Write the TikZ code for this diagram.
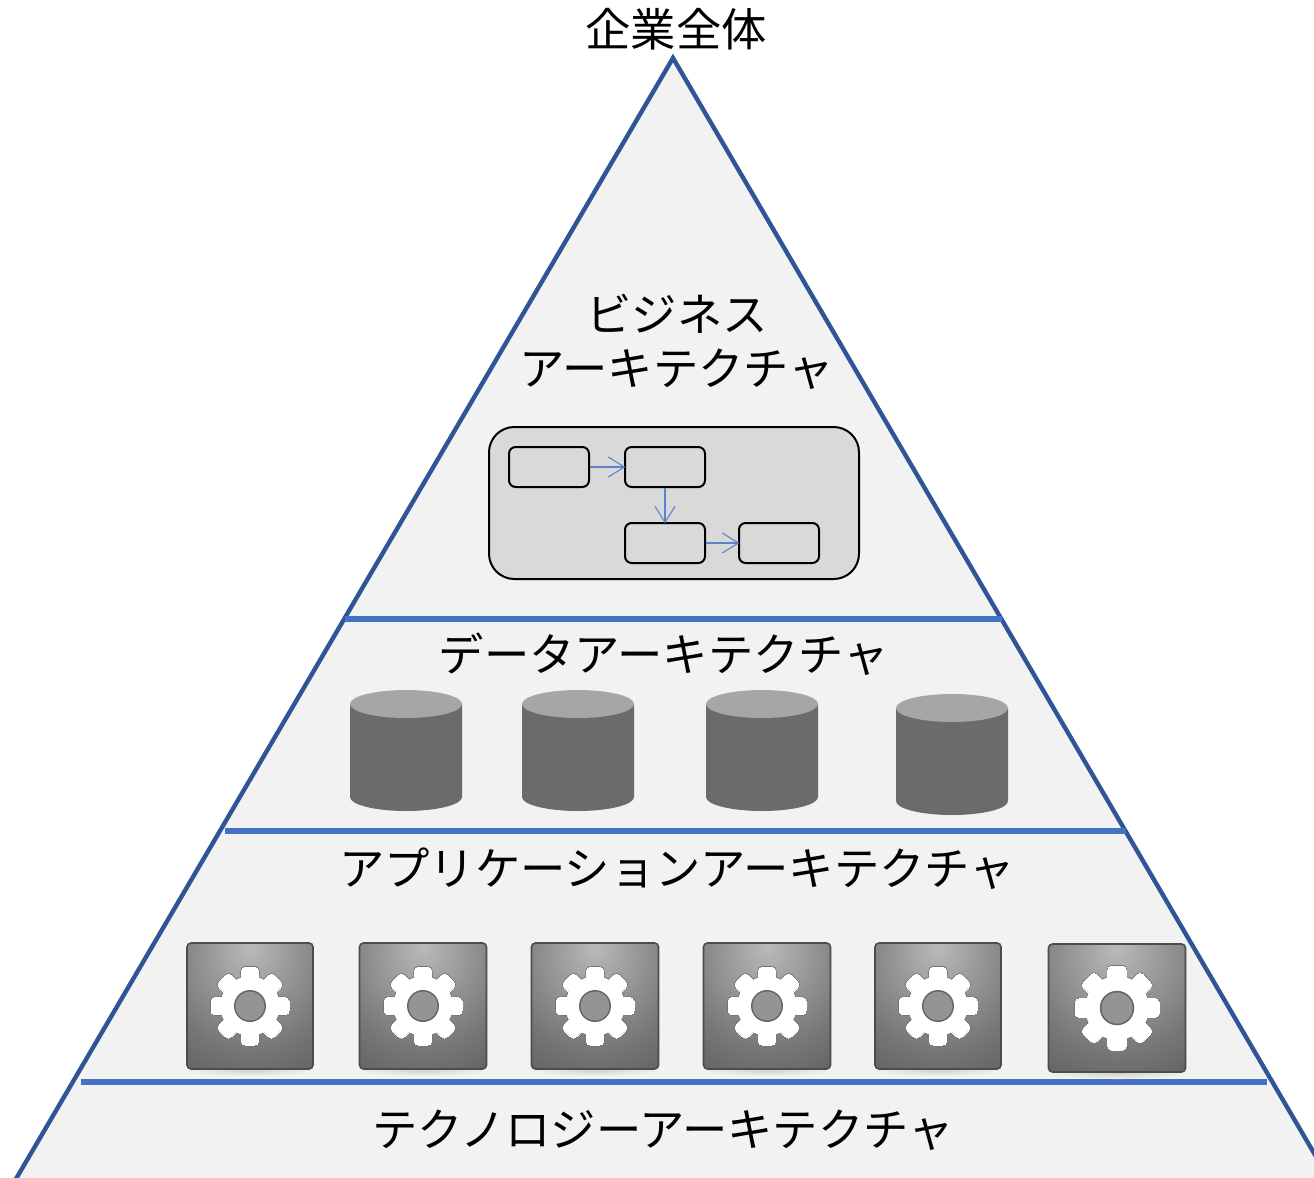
\documentclass[tikz,border=0pt]{standalone}
\usepackage{fontspec}
\newfontfamily\cjk{Noto Sans CJK JP}
\usepackage{tikz}
\usetikzlibrary{positioning}
\usetikzlibrary{arrows.meta}
\usetikzlibrary{shapes.geometric}
\definecolor{edgeblue}{HTML}{2F5597}
\definecolor{ruleblue}{HTML}{4472C4}
\definecolor{flowblue}{HTML}{5B84CC}
\definecolor{pyramid}{HTML}{F2F2F2}
\definecolor{panel}{HTML}{D9D9D9}
\pgfdeclareradialshading{iconshade}{\pgfpoint{0bp}{24bp}}{%
  color(0bp)=(black!27); color(16bp)=(black!40); color(34bp)=(black!54);
  color(55bp)=(black!66); color(100bp)=(black!78)}
\tikzset{%
  layer label/.style={
    font=\cjk\fontsize{34}{40.5}\selectfont,
    align=center,
    inner sep=0pt
  },
  flow box/.style={
    rectangle,
    draw=black,
    line width=1.5pt,
    rounded corners=5pt,
    minimum width=60pt,
    minimum height=30pt,
    inner sep=0pt
  },
  flow arrow/.style={
    draw=flowblue,
    line width=0.9pt,
    -{Straight Barb[length=12pt,width=15pt,line width=0.8pt]},
    shorten >=-1pt
  },
  drum body/.style={fill=black!58},
  drum top/.style={fill=black!35},
  icon tile/.style={
    rectangle,
    rounded corners=3pt,
    draw=black!70,
    line width=1.2pt,
    shading=iconshade,
    inner sep=0pt
  },
  icon shadow/.style={
    ellipse,
    inner sep=0pt,
    shading=radial,
    inner color=black!18,
    outer color=pyramid
  },
}
\newcommand{\gearicon}[6]{% name, x, y, width, height, gear radius
  \node[icon shadow, minimum width=#4*0.8pt, minimum height=9pt] (#1_shadow) at (#2,#3+#5/2+1) {};
  \node[icon tile, minimum width=#4*0.75pt, minimum height=#5*0.75pt] (#1) at (#2,#3) {};
  \foreach \c/\w/\g in {black!55/1.4pt/0.6pt,white/0pt/0pt}
    {\fill[\c] (#2,#3) circle[radius=#6*0.76*0.75pt+\g];
    \foreach \a in {0,45,...,315}
      {\fill[\c, draw=\c, line width=\w, rounded corners=3pt, rotate around={\a:(#2,#3)}]
        (#2-#6*0.22,#3-#6*0.5) rectangle (#2+#6*0.22,#3-#6);}}
  \fill[black!60] (#2,#3) circle[radius=#6*0.41*0.75pt];
  \fill[black!42] (#2,#3) circle[radius=#6*0.37*0.75pt];
}

\begin{document}
\begin{tikzpicture}[x=0.75pt, y=-0.75pt, > = stealth]
\useasboundingbox (0,0) rectangle (1314,1178);
\clip (0,0) rectangle (1314,1178);
\coordinate (apex) at (673,58);
\coordinate (base_l) at (-55,1300);
\coordinate (base_r) at (1400,1300);
\draw[edgeblue, fill=pyramid, line width=3.3pt, miter limit=10] (base_l) -- (apex) -- (base_r);

% layer rules
\foreach \l/\r/\y in {345/1002/619,225/1126/831,81/1267/1082}
    \draw[ruleblue, line width=4pt] (\l,\y) -- (\r,\y);

\node[layer label] (whole) at (676,29) {企業全体};
\node[layer label] (business) at (677,342) {ビジネス\\アーキテクチャ};
\node[layer label] (data) at (664,654) {データアーキテクチャ};
\node[layer label] (application) at (677,869) {アプリケーションアーキテクチャ};
\node[layer label] (technology) at (663,1130) {テクノロジーアーキテクチャ};

% process panel
\node[rectangle, draw=black, fill=panel, line width=1.5pt, rounded corners=19pt,
      minimum width=277.5pt, minimum height=114pt, inner sep=0pt] (panel_box) at (674,503) {};
\node[flow box] (flow_a) at (549,467) {};
\node[flow box] (flow_b) at (665,467) {};
\node[flow box] (flow_c) at (665,543) {};
\node[flow box] (flow_d) at (779,543) {};
\draw[flow arrow] (flow_a) -- (flow_b);
\draw[flow arrow] (flow_b) -- (flow_c);
\draw[flow arrow] (flow_c) -- (flow_d);

% databases
\foreach \x/\y in {406/704,578/704,762/704,952/708}
    {\fill[drum body] (\x-56,\y) -- (\x-56,\y+93) arc[start angle=180, end angle=360, x radius=56, y radius=-14]
        -- (\x+56,\y) -- cycle;
    \fill[drum top] (\x,\y) circle[x radius=56, y radius=14];}

% application icons
\gearicon{icon_a}{250}{1006}{126}{126}{39}
\gearicon{icon_b}{423}{1006}{127}{126}{39}
\gearicon{icon_c}{595}{1006}{127}{126}{39}
\gearicon{icon_d}{767}{1006}{127}{126}{39}
\gearicon{icon_e}{938}{1006}{126}{126}{39}
\gearicon{icon_f}{1117}{1008}{137}{128}{42}
\end{tikzpicture}
\end{document}
